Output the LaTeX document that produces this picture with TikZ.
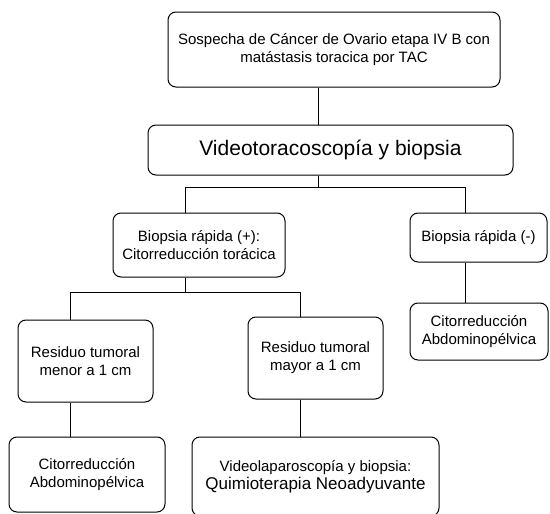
\documentclass[tikz,border=0pt]{standalone}
\usepackage{fontspec}
\setmainfont{Liberation Sans}
\usepackage{tikz}
\usetikzlibrary{positioning}

\begin{document}
\begin{tikzpicture}[x=1pt, y=-1pt, line width=1pt,
	caja/.style={draw, rounded corners=8pt, align=center, inner sep=2pt,
		font=\fontsize{15}{18}\selectfont}]
	\clip (0,0) rectangle (550,514);
	\draw (334,49.5) node[caja, minimum width=332pt, minimum height=75pt] (top) {Sospecha de Cáncer de Ovario etapa IV B con\\ matástasis toracica por TAC}
	(330.5,150) node[caja, minimum width=365pt, minimum height=50pt, font=\fontsize{21}{25}\selectfont] (video) {Videotoracoscopía y biopsia}
	(199,245) node[caja, minimum width=172pt, minimum height=64pt] (bplus) {Biopsia rápida (+):\\ Citorreducción torácica}
	(478.5,237.5) node[caja, minimum width=137pt, minimum height=49pt] (bminus) {Biopsia rápida (-)}
	(85.5,361) node[caja, minimum width=135pt, minimum height=82pt] (rmenor) {Residuo tumoral\\ menor a 1 cm}
	(315.5,358) node[caja, minimum width=135pt, minimum height=82pt] (rmayor) {Residuo tumoral\\ mayor a 1 cm}
	(479,331.5) node[caja, minimum width=138pt, minimum height=57pt] (citoR) {Citorreducción\\ Abdominopélvica}
	(87,474.5) node[caja, minimum width=156pt, minimum height=75pt] (citoL) {Citorreducción\\ Abdominopélvica}
	(315.5,476.5) node[caja, minimum width=247pt, minimum height=79pt] (videolap) {Videolaparoscopía y biopsia:\\ {\fontsize{17}{20}\selectfont Quimioterapia Neoadyuvante}};

	\coordinate (j1) at (318,187);
	\coordinate (j2) at (185,292);

	\draw (top.south -| j1) -- (video.north -| j1);
	\draw (video.south -| j1) -- (j1);
	\draw (j1) -| ([xshift=-14pt]bplus.north);
	\draw (j1) -| ([xshift=-13pt]bminus.north);
	\draw ([xshift=-14pt]bplus.south) -- (j2);
	\draw (j2) -| ([xshift=-15.5pt]rmenor.north);
	\draw (j2) -| ([xshift=-15.5pt]rmayor.north);
	\draw ([xshift=-15.5pt]rmenor.south) -- ([xshift=-17pt]citoL.north);
	\draw ([xshift=-15.5pt]rmayor.south) -- ([xshift=-15.5pt]videolap.north);
	\draw ([xshift=-13pt]bminus.south) -- ([xshift=-13.5pt]citoR.north);
\end{tikzpicture}
\end{document}
